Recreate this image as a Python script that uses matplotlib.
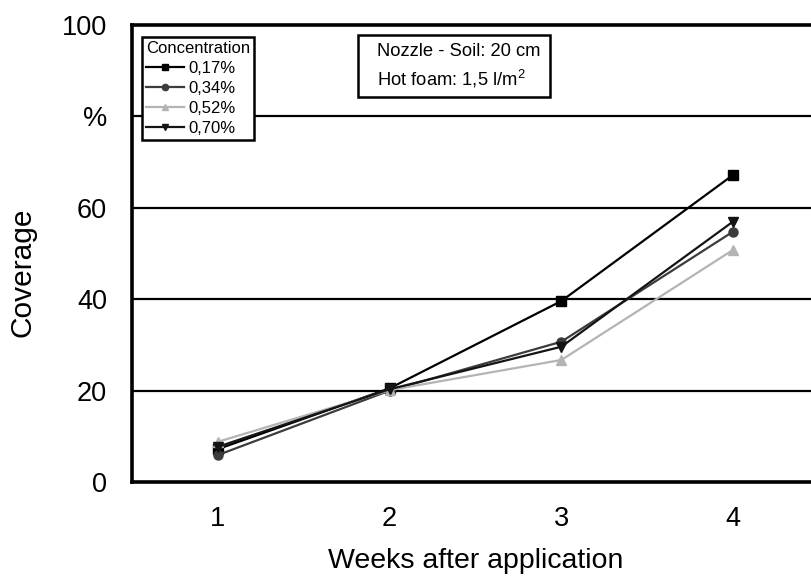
import matplotlib
matplotlib.use("Agg")
import matplotlib.pyplot as plt
from matplotlib.patches import Rectangle

plt.rcParams['font.family'] = ['Liberation Sans', 'DejaVu Sans']
plt.rcParams['mathtext.fontset'] = 'custom'
plt.rcParams['mathtext.rm'] = 'Liberation Sans'

weeks = [1, 2, 3, 4]
conc_labels = ["0,17%", "0,34%", "0,52%", "0,70%"]
cov_017 = [7.2, 20.5, 39.6, 67.2]
cov_034 = [5.9, 20.0, 30.7, 54.8]
cov_052 = [8.8, 20.1, 26.7, 50.8]
cov_070 = [7.7, 20.3, 29.6, 57.0]
ytick_vals = [0, 20, 40, 60, 80, 100]
ytick_text = ["0", "20", "40", "60", "%", "100"]

series = [
    (cov_017, "s", "#000000"),
    (cov_034, "o", "#3c3c3c"),
    (cov_052, "^", "#b4b4b4"),
    (cov_070, "v", "#141414"),
]

fig = plt.figure(figsize=(8.12, 5.81), dpi=100)
W, H = 812, 581
left, right, top, bottom = 132, 819, 25, 482
ax = fig.add_axes([left / W, 1 - bottom / H, (right - left) / W, (bottom - top) / H])

handles = []
for (vals, mk, col), lab in zip(series, conc_labels):
    h, = ax.plot(weeks, vals, color=col, marker=mk, markersize=6.5, lw=1.6,
                 label=lab, zorder=3, clip_on=False)
    handles.append(h)

ax.set_xlim(0.5, 4.5)
ax.set_ylim(0, 100)
ax.set_xticks(weeks)
ax.set_yticks(ytick_vals)
ax.set_yticklabels(ytick_text)
ax.tick_params(axis='both', length=0, labelsize=19.5)
ax.tick_params(axis='y', pad=18)
ax.tick_params(axis='x', pad=17)

for y in ytick_vals[1:-1]:
    ax.axhline(y, color='black', lw=1.6, zorder=1)

for side in ['left', 'bottom', 'top']:
    ax.spines[side].set_linewidth(2.6)
ax.spines['right'].set_visible(False)

ax.set_xlabel("Weeks after application", fontsize=20.5, va='center')
ax.set_ylabel("Coverage", fontsize=21.5, va='center')
ax.xaxis.set_label_coords(0.5, -0.172)
ax.yaxis.set_label_coords(-0.160, 0.460)

leg = ax.legend(handles=handles, title="Concentration", loc='upper left',
                bbox_to_anchor=(0.0145, 0.974), fontsize=12, title_fontsize=12,
                frameon=True, fancybox=False, framealpha=1, edgecolor='black',
                handlelength=2.3, handletextpad=0.25, labelspacing=0.3,
                borderpad=0.25, borderaxespad=0, alignment='left')
leg.get_frame().set_linewidth(1.8)
for lh in leg.legend_handles:
    lh.set_markersize(4.5)

# Annotation box with the application settings
ax.add_patch(Rectangle((0.329, 0.842), 0.2795, 0.136, transform=ax.transAxes,
                       fc='white', ec='black', lw=1.8, zorder=4))
ax.text(0.357, 0.941, "Nozzle - Soil: 20 cm", transform=ax.transAxes,
        fontsize=13.2, va='center', ha='left', zorder=5)
ax.text(0.357, 0.882, "Hot foam: 1,5 l/m$^{2}$", transform=ax.transAxes,
        fontsize=13.2, va='center', ha='left', zorder=5)

fig.savefig("out.png", dpi=100)
